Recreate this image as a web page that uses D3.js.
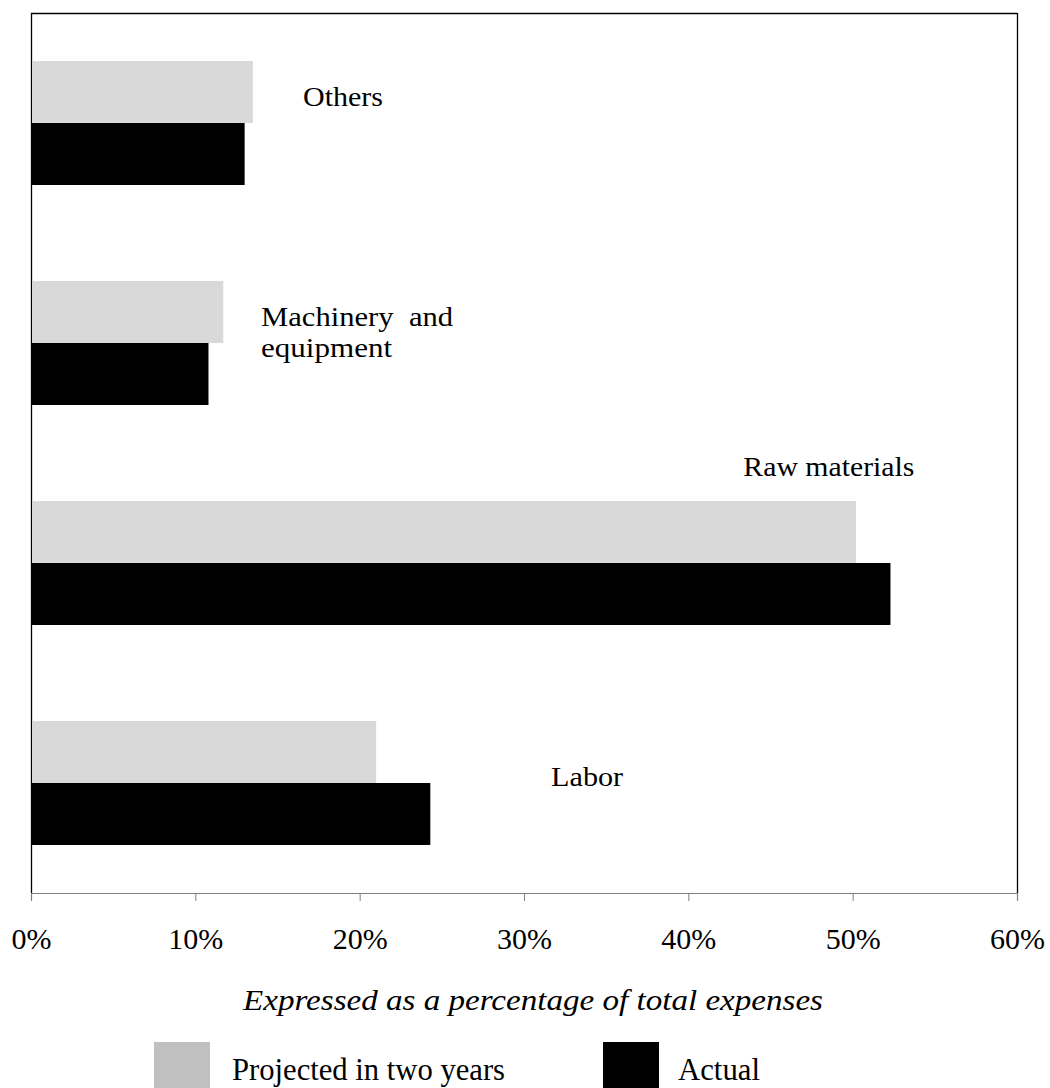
<!DOCTYPE html>
<html>
<head>
<meta charset="utf-8">
<script src="https://cdn.jsdelivr.net/npm/d3@7"></script>
<style>
  html, body { margin: 0; padding: 0; background: #fff; }
  svg { display: block; }
  text { font-family: "Liberation Serif", "Times New Roman", serif; fill: #000; }
</style>
</head>
<body>
<svg id="chart" width="1050" height="1088"></svg>
<script>
// ---- data ----
const categories = ["Others", "Machinery and equipment", "Raw materials", "Labor"];
const seriesNames = ["Projected in two years", "Actual"];
const projected = [13.5, 11.7, 50.2, 21.0];
const actual = [13.0, 10.8, 52.3, 24.3];
const tickValues = [0, 10, 20, 30, 40, 50, 60];
const tickLabels = ["0%", "10%", "20%", "30%", "40%", "50%", "60%"];
const axisTitle = "Expressed as a percentage of total expenses";

// ---- layout ----
const svg = d3.select("#chart");
const plotL = 31, plotR = 1017, plotT = 13, plotB = 893;
const serif = "'Liberation Serif', 'Times New Roman', serif";
const barColors = { "Projected in two years": "#d9d9d9", "Actual": "#000000" };
const legendColors = { "Projected in two years": "#c0c0c0", "Actual": "#000000" };

const x = d3.scaleLinear().domain([0, 60]).range([plotL, plotR]);
const y = d3.scaleBand().domain(categories).range([plotT, plotB])
  .paddingInner(0.4364).paddingOuter(0.2182);
const ySub = d3.scaleBand().domain(seriesNames).range([0, y.bandwidth()]).padding(0);

const rows = categories.map((c, i) => ({ cat: c, values: [
  { s: seriesNames[0], v: projected[i] },
  { s: seriesNames[1], v: actual[i] }
]}));

// frame: top and right borders
svg.append("line").attr("x1", plotL).attr("x2", plotR).attr("y1", plotT + 0.5).attr("y2", plotT + 0.5)
  .attr("stroke", "#000").attr("stroke-width", 1.3);
svg.append("line").attr("x1", plotR + 0.5).attr("x2", plotR + 0.5).attr("y1", plotT).attr("y2", plotB)
  .attr("stroke", "#000").attr("stroke-width", 1.3);
// left axis line
svg.append("line").attr("x1", plotL + 0.5).attr("x2", plotL + 0.5).attr("y1", plotT).attr("y2", plotB)
  .attr("stroke", "#000").attr("stroke-width", 1.3);

// bars
const g = svg.append("g");
g.selectAll("g.row").data(rows).join("g").attr("class", "row")
  .attr("transform", d => `translate(0,${y(d.cat)})`)
  .selectAll("rect").data(d => d.values).join("rect")
  .attr("x", x(0) + 1)
  .attr("y", d => ySub(d.s))
  .attr("width", d => x(d.v) - x(0) - 1)
  .attr("height", ySub.bandwidth())
  .attr("fill", d => barColors[d.s]);

// bottom axis
const xAxis = d3.axisBottom(x).tickValues(tickValues)
  .tickFormat((d, i) => tickLabels[i]).tickSize(8).tickPadding(0);
const ax = svg.append("g").attr("transform", `translate(0,${plotB})`).call(xAxis);
ax.attr("font-family", null).attr("font-size", null);
ax.select(".domain").attr("stroke", "#808080").attr("stroke-width", 1.2);
ax.selectAll(".tick line").attr("stroke", "#808080").attr("stroke-width", 1);
ax.selectAll(".tick text").remove();
ax.selectAll(".tick").append("text")
  .attr("y", 56).attr("text-anchor", "middle")
  .style("font-family", serif)
  .style("font-size", "29px")
  .attr("textLength", (d, i) => tickLabels[i].length === 2 ? 40 : 55)
  .attr("lengthAdjust", "spacingAndGlyphs")
  .text((d, i) => tickLabels[i]);

// category labels (annotations)
function label(txt, px, py, len, size) {
  svg.append("text").attr("x", px).attr("y", py)
    .style("font-family", serif).style("font-size", size + "px")
    .style("white-space", "pre")
    .attr("textLength", len).attr("lengthAdjust", "spacingAndGlyphs").text(txt);
}
label("Others", x(16.55), y(categories[0]) + 45, 80, 27);
label("Machinery  and", x(14.0), y(categories[1]) + 45, 192, 27);
label("equipment", x(14.0), y(categories[1]) + 76, 131, 27);
label("Raw materials", x(43.35), y(categories[2]) - 25, 171, 27);
label("Labor", x(31.65), y(categories[3]) + 65, 72, 27);

// axis title
svg.append("text").attr("x", 243).attr("y", 1010)
  .style("font-family", serif).style("font-size", "30px").style("font-style", "italic")
  .attr("textLength", 580).attr("lengthAdjust", "spacingAndGlyphs")
  .text(axisTitle);

// legend
const legendItems = [
  { s: seriesNames[0], bx: 154, tx: 232, len: 273 },
  { s: seriesNames[1], bx: 603, tx: 678, len: 82 }
];
const lg = svg.append("g");
lg.selectAll("rect").data(legendItems).join("rect")
  .attr("x", d => d.bx).attr("y", 1042).attr("width", 56).attr("height", 50)
  .attr("fill", d => legendColors[d.s]);
lg.selectAll("text").data(legendItems).join("text")
  .attr("x", d => d.tx).attr("y", 1080)
  .style("font-family", serif).style("font-size", "32px")
  .attr("textLength", d => d.len).attr("lengthAdjust", "spacingAndGlyphs")
  .text(d => d.s);
</script>
</body>
</html>
